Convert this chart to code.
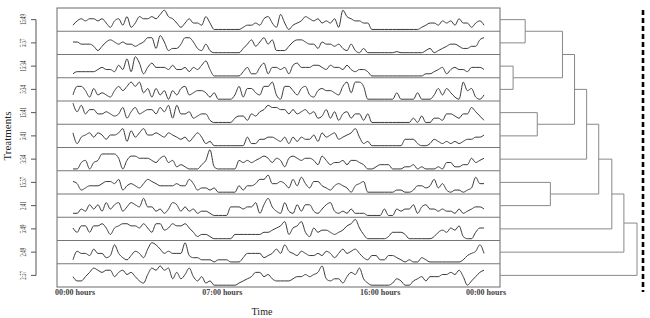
<!DOCTYPE html>
<html>
<head>
<meta charset="utf-8">
<script src="https://cdn.jsdelivr.net/npm/d3@7"></script>
<style>
  body { margin: 0; background: #fff; }
  svg { display: block; }
</style>
</head>
<body>
<div id="chart"></div>
<script>
// treatments, top to bottom
var treatments = ["15:49", "5:57", "15:34", "5:34", "15:41", "5:41", "3:34", "15:57", "2:41", "5:49", "2:49", "2:57"];

// time tick labels and the sample index they sit at
var hourLabels = ["00:00 hours", "07:00 hours", "16:00 hours", "00:00 hours"];
var hourIndex = [0, 35.5, 73.5, 99];

// activity traces (100 samples per day)
var s1549 = [2,4,5,4,5,5,4,5,3,1, 4,5,2,6,1,3,6,5,5,6, 5,7,9,6,5,3,1,3,5,3, 3,2,6,3,0,0,0,0,0,0, 0,1,2,2,3,2,5,6,3,1, 7,3,0,2,3,4,6,5,4,5, 3,4,3,5,1,9,6,5,4,4, 3,3,0,0,0,0,0,0,0,0, 0,0,0,0,1,2,3,3,2,4, 3,4,2,5,3,3,1,3,4,2];
var s557 = [5,5,4,4,4,3,1,3,5,6, 5,4,5,4,4,3,4,5,7,7, 2,8,5,1,2,2,4,7,7,5, 2,1,4,1,0,0,0,0,0,0, 0,2,4,6,3,5,7,4,6,1, 1,1,3,5,6,6,5,4,4,2, 5,4,4,3,4,2,1,4,1,0, 2,0,0,0,0,0,0,0,0.5,0, 0,0,0,0,0,1,2,0,1,2, 3,4,4,3,2,2,3,3,6,7];
var s1534 = [1,2,2,2,2,2,3,4,3,3, 2,5,3,8,2,9,6,1,4,6, 4,4,4,3,5,3,3,4,2,4, 3,5,7,3,0,0,0,0,0,0, 0,2,4,1,1,4,6,1,4,4, 3,4,1,5,6,4,4,4,5,5, 4,3,5,4,4,3,5,3,2,3, 3,2,0,0,0,0,0,0,0,0, 0,0,0,0,0,1,1,2,3,4, 1,3,4,3,3,2,4,4,4,3];
var s534 = [2,6,6,4,1,5,2,3,2,1, 4,6,4,6,8,6,8,3,5,1, 5,2,4,0,4,2,5,6,2,3, 4,4,3,1,3,0,0,0,0,2, 6,1,5,5,3,2,6,6,8,2, 0,6,6,4,2,5,6,2,1,4, 5,4,4,3,2,6,8,3,8,8, 6,0,0,0,0,0,0,0,3,0, 0,0,0,3,0,0,0,2,5,2, 5,3,1,0,8,4,5,1,0,2];
var s1541 = [9,5,8,4,6,6,4,4,5,4, 3,4,7,2,5,7,4,5,6,6, 4,7,5,8,2,8,4,4,5,2, 3,4,4,1,0,0,0,0,0,2, 3,3,1,4,3,5,6,8,7,7, 6,6,4,6,4,5,6,4,5,2, 3,6,2,5,1,4,5,2,4,4, 1,4,0,0,0,0,0,0,0,0, 0,0,2,0,3,0,0,2,2,1, 4,4,3,2,4,4,7,5,3,1];
var s541 = [6,1,4,5,6,4,6,5,3,5, 5,6,8,2,7,4,6,8,5,5, 6,5,4,6,5,4,3,4,2,4, 6,4,1,2,0,0,0,0,0,0, 0,0,4,1,1,3,3,4,4,3, 2,4,1,4,2,4,3,3,5,2, 6,4,5,6,3,4,5,6,8,4, 1,2,0,0,0,0,0,0,0,0, 3,3,3,1,0,0,1,3,2,1, 2,1,2,1,2,3,3,4,4,5];
var s334 = [0,0,3,4,0,3,4,7,7,7, 7,5,0,4,6,6,5,5,5,4, 3,5,6,3,4,1,2,1,0,0, 0,2,4,9,1,0,0,0,0,0, 4,3,4,3,4,5,6,5,3,5, 4,1,5,6,5,4,5,5,4,2, 6,4,2,3,3,4,2,4,4,3, 2,0,0,1,2,2,2,0,0,0, 1,1,2,0,1,0,0,0,1,0, 3,3,1,1,2,2,5,3,4,5];
var s1557 = [5,4,1,2,3,3,3,4,5,5, 4,6,1,3,4,3,2,4,6,5, 4,3,3,3,3,4,3,3,6,4, 1,2,2,1,2,0,0,0,0,0, 3,1,3,3,4,6,6,8,4,4, 5,4,2,6,3,7,4,2,5,5, 3,2,1,3,4,3,2,0,3,4, 5,0,0,0,0,0,0,0,1,1, 0,0,1,3,3,2,3,6,2,4, 1,0,1,1,0,1,2,7,4,4];
var s241 = [1,1,3,2,5,3,5,2,6,3, 5,6,2,4,6,5,4,8,4,4, 2,3,1,3,6,5,2,4,2,3, 1,2,2,1,0,0,0,0,4,4, 4,3,4,4,6,1,5,8,4,2, 1,6,2,1,5,2,5,5,2,1, 3,5,6,2,1,2,1,3,1,1, 1,0,0,0,0,3,0,0,3,2, 3,3,5,1,4,5,3,3,2,3, 2,2,1,3,1,2,3,4,4,3];
var s549 = [5,3,6,6,3,6,6,7,5,2, 5,6,7,7,6,6,5,7,5,3, 7,7,4,5,7,6,6,7,5,3, 1,2,2,1,0,0,0,0,0,2, 2,2,2,2,2,2,3,3,4,5, 6,8,2,5,6,8,3,1,5,3, 4,4,3,2,3,4,6,7,9,5, 2,0,0,0,0,0,1,3,3,3, 2,0,0,0,0,0,0,1,3,4, 3,5,4,6,1,0,0,3,5,5];
var s249 = [1,5,4,4,3,6,4,4,2,3, 8,4,2,1,3,5,4,2,6,9, 8,6,4,5,4,4,4,9,3,2, 2,1,1,1,0,1,1,1,0,0, 0,2,4,4,4,4,2,3,4,6, 4,8,5,4,3,5,4,3,3,4, 3,5,4,2,4,6,4,5,6,4, 2,1,3,3,1,1,3,3,2,1, 0,1,0,0,2,1,0,0,0,0, 0,0,0,0,1,3,4,5,8,4];
var s257 = [4,2,2,4,6,8,7,6,7,7, 4,6,7,5,6,4,2,1,5,8, 7,9,7,8,3,6,3,5,8,4, 2,4,1,2,0,0,0,0,0,0, 1,2,3,4,6,6,4,5,3,2, 2,2,2,3,4,4,5,4,5,6, 9,3,2,3,3,1,4,6,5,8, 3,1,0,0,0,0,0,1,3,2, 0,0,2,3,4,2,4,4,4,5, 5,6,5,7,4,0,2,4,6,7];

var series = [s1549, s557, s1534, s534, s1541, s541, s334, s1557, s241, s549, s249, s257];

// dendrogram merges: [left, right, height]; "mN" refers to merge N
var merges = [
  ["15:34", "5:34", 13],
  ["15:49", "5:57", 25],
  ["15:41", "5:41", 37],
  ["15:57", "2:41", 50],
  ["m1", "m0", 62],
  ["m4", "m2", 74],
  ["m5", "3:34", 86],
  ["m6", "m3", 98],
  ["m7", "5:49", 111],
  ["m8", "2:49", 123],
  ["m9", "2:57", 136]
];

var width = 650;
var height = 318;
var boxLeft = 57, boxRight = 500, boxTop = 8, boxBottom = 287;

var svg = d3
  .select("#chart")
  .append("svg")
  .attr("width", width)
  .attr("height", height);

// scales
var y_band = d3
  .scaleBand()
  .domain(treatments)
  .range([boxTop, boxBottom]);

var x_scale = d3
  .scaleLinear()
  .domain([0, 99])
  .range([73, 484]);

var v_scale = d3
  .scaleLinear()
  .domain([0, 9])
  .range([y_band.bandwidth() - 1.8, 2.2]);

var line = d3
  .line()
  .curve(d3.curveMonotoneX)
  .x(function(d, i) { return x_scale(i); })
  .y(function(d) { return v_scale(d); });

// traces
var rows = svg
  .selectAll("g.row")
  .data(treatments)
  .enter()
  .append("g")
  .attr("class", "row")
  .attr("transform", function(d) { return "translate(0," + y_band(d) + ")"; });

rows
  .append("path")
  .attr("d", function(d, i) { return line(series[i]); })
  .attr("fill", "none")
  .attr("stroke", "#3a3a3a")
  .attr("stroke-width", 1)
  .attr("stroke-linejoin", "round");

// row separators
svg
  .selectAll("line.sep")
  .data(treatments.slice(1))
  .enter()
  .append("line")
  .attr("x1", boxLeft)
  .attr("x2", boxRight)
  .attr("y1", function(d) { return y_band(d); })
  .attr("y2", function(d) { return y_band(d); })
  .attr("stroke", "#777")
  .attr("stroke-width", 1.1);

// outer box
svg
  .append("rect")
  .attr("x", boxLeft)
  .attr("y", boxTop)
  .attr("width", boxRight - boxLeft)
  .attr("height", boxBottom - boxTop)
  .attr("fill", "none")
  .attr("stroke", "#777")
  .attr("stroke-width", 1.1);

// left axis with treatment names
var rowCenter = function(d) { return y_band(d) + y_band.bandwidth() / 2; };

svg
  .append("line")
  .attr("x1", 36)
  .attr("x2", 36)
  .attr("y1", rowCenter(treatments[0]))
  .attr("y2", rowCenter(treatments[treatments.length - 1]))
  .attr("stroke", "#555");

svg
  .selectAll("line.tick")
  .data(treatments)
  .enter()
  .append("line")
  .attr("x1", 31)
  .attr("x2", 36)
  .attr("y1", rowCenter)
  .attr("y2", rowCenter)
  .attr("stroke", "#555");

svg
  .selectAll("text.rowlab")
  .data(treatments)
  .enter()
  .append("text")
  .attr("transform", function(d) {
    return "translate(26," + rowCenter(d) + ") rotate(-90) scale(0.6,1)";
  })
  .attr("text-anchor", "middle")
  .attr("font-family", "Liberation Serif")
  .attr("font-size", 8)
  .attr("fill", "#333")
  .text(function(d) { return d; });

// time labels
svg
  .selectAll("text.hour")
  .data(hourLabels)
  .enter()
  .append("text")
  .attr("x", function(d, i) { return x_scale(hourIndex[i]) + 2; })
  .attr("y", 295)
  .attr("text-anchor", "middle")
  .attr("font-family", "Liberation Serif")
  .attr("font-weight", "bold")
  .attr("font-size", 8)
  .attr("fill", "#444")
  .text(function(d) { return d; });

// axis titles
svg
  .append("text")
  .attr("x", 262)
  .attr("y", 315)
  .attr("text-anchor", "middle")
  .attr("font-family", "Liberation Serif")
  .attr("font-size", 10)
  .attr("fill", "#222")
  .text("Time");

svg
  .append("text")
  .attr("transform", "translate(11,136) rotate(-90)")
  .attr("text-anchor", "middle")
  .attr("font-family", "Liberation Serif")
  .attr("font-size", 11)
  .attr("fill", "#222")
  .text("Treatments");

// dendrogram
var h_scale = d3
  .scaleLinear()
  .domain([0, 136])
  .range([boxRight, 637]);

var nodePos = {};
treatments.forEach(function(t) {
  nodePos[t] = { x: boxRight, y: rowCenter(t) };
});

var dendro = svg.append("g").attr("stroke", "#888").attr("stroke-width", 1).attr("fill", "none");

merges.forEach(function(m, i) {
  var a = nodePos[m[0]];
  var b = nodePos[m[1]];
  var mx = h_scale(m[2]);
  dendro
    .append("path")
    .attr("d",
      "M" + a.x + "," + a.y + "H" + mx + "V" + b.y + "H" + b.x);
  nodePos["m" + i] = { x: mx, y: (a.y + b.y) / 2 };
});

// dashed cut line
svg
  .append("line")
  .attr("x1", 643)
  .attr("x2", 643)
  .attr("y1", 10)
  .attr("y2", 292)
  .attr("stroke", "#000")
  .attr("stroke-width", 2.6)
  .attr("stroke-dasharray", "5,3");
</script>
</body>
</html>
